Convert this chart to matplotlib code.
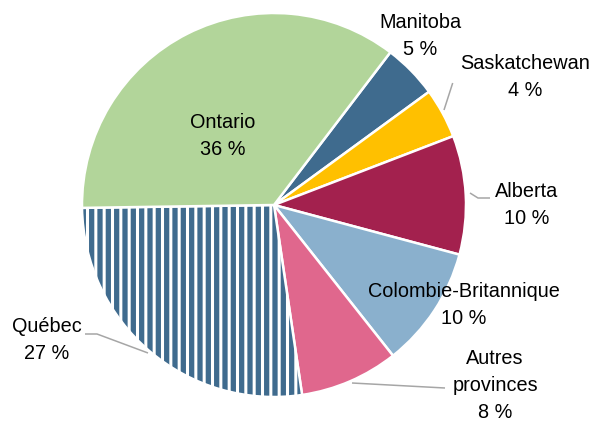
import matplotlib
matplotlib.use('Agg')
import matplotlib.pyplot as plt

# Data (clockwise from Manitoba)
provinces = ['Manitoba', 'Saskatchewan', 'Alberta', 'Colombie-Britannique',
             'Autres\nprovinces', 'Québec', 'Ontario']
shares = [4.6, 4.2, 10.0, 10.2, 8.3, 27.1, 35.6]
pct_text = ['5 %', '4 %', '10 %', '10 %', '8 %', '27 %', '36 %']
colors = ['#3F6B8E', '#FFC000', '#A3214E', '#8AB0CD', '#E0678D', '#3F6B8E', '#B2D59A']

W, H = 602, 422
plt.rcParams['hatch.linewidth'] = 2.2
fam = ['Liberation Sans', 'DejaVu Sans']

fig = plt.figure(figsize=(W / 100, H / 100), dpi=100)
ax = fig.add_axes([0, 0, 1, 1])

wedges, _ = ax.pie(shares, colors=colors, startangle=52.7, counterclock=False,
                   center=(274, H - 205), radius=192,
                   wedgeprops=dict(edgecolor='white', linewidth=1.8))
wedges[5].set_hatch('||')

ax.set_xlim(0, W)
ax.set_ylim(0, H)
ax.set_aspect('equal')
ax.axis('off')

# label placement (pixel coords from top-left): center x, first baseline y
label_pos = {
    'Manitoba': (420, 28),
    'Saskatchewan': (525, 69),
    'Alberta': (527, 197),
    'Colombie-Britannique': (464, 297),
    'Autres\nprovinces': (495, 364),
    'Québec': (47, 332),
    'Ontario': (223, 128),
}
line_gap = 27
for name, pct in zip(provinces, pct_text):
    x, y = label_pos[name]
    lines = name.split('\n') + [pct]
    for i, ln in enumerate(lines):
        ax.text(x, H - (y + i * line_gap), ln, ha='center', va='baseline',
                fontsize=14.3, family=fam, color='#000000')

# leader lines (pixel coords, top-left origin)
leaders = [
    [(452.7, 83), (444, 110)],
    [(470, 193), (478, 198), (490, 198)],
    [(352, 383), (445, 388)],
    [(85, 334), (97, 334), (148, 353)],
]
for pts in leaders:
    xs = [p[0] for p in pts]
    ys = [H - p[1] for p in pts]
    ax.plot(xs, ys, color='#A6A6A6', lw=1.1, solid_capstyle='butt')

fig.savefig('out.png', dpi=100)
